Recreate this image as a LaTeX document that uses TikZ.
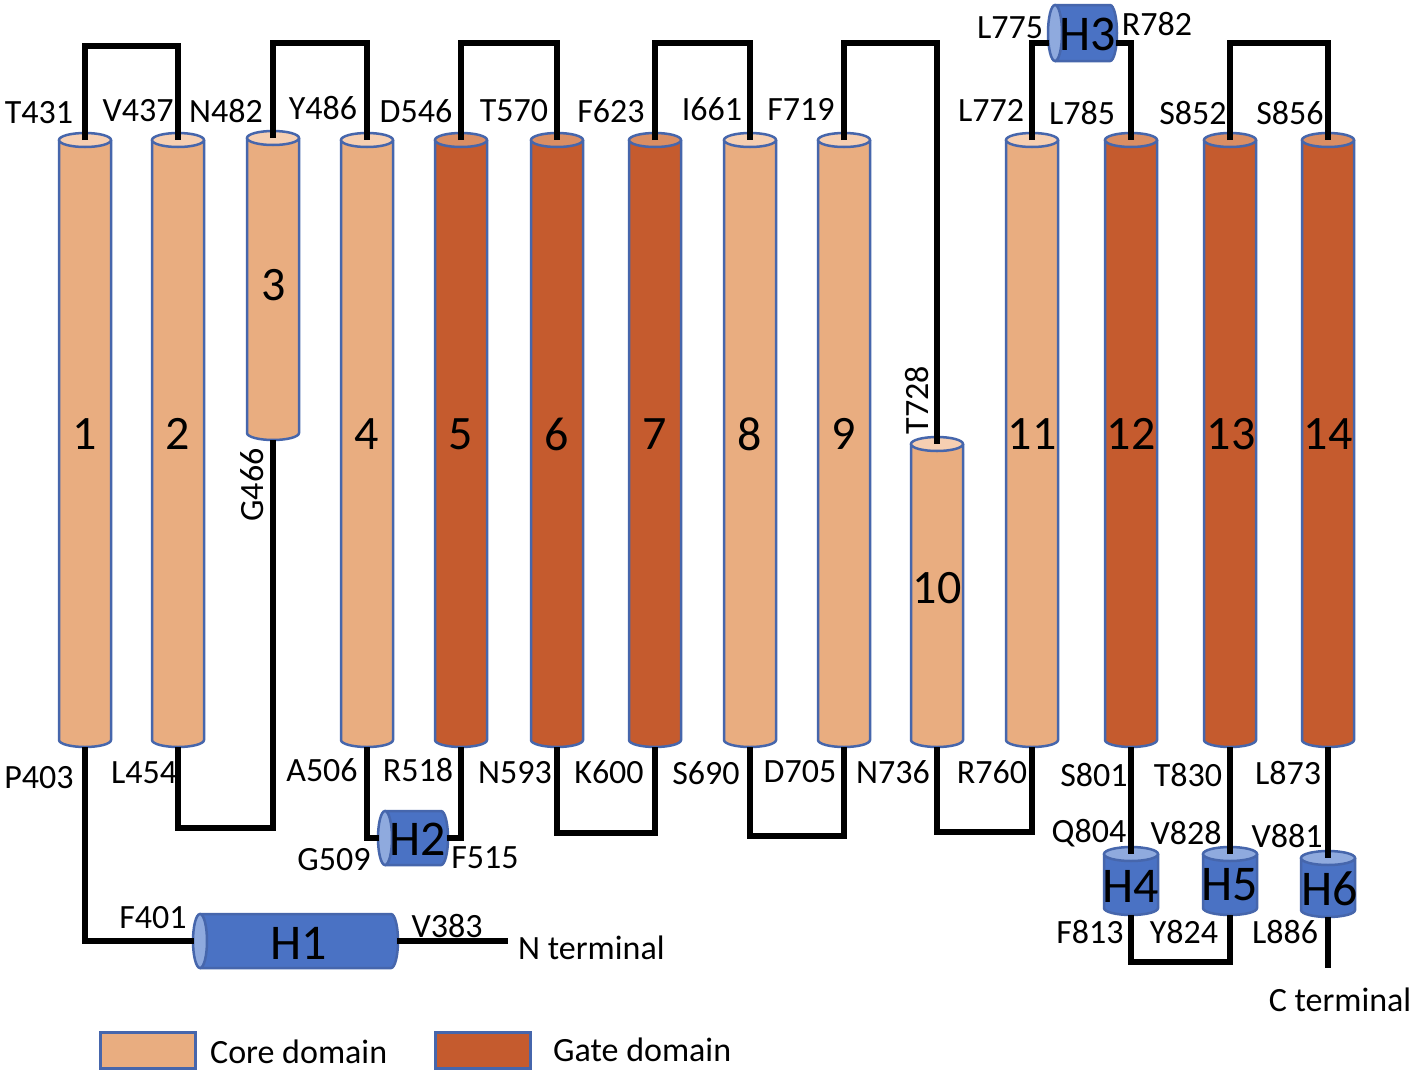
\documentclass[tikz,border=0pt]{standalone}
\usepackage{fontspec}
\setmainfont{Carlito}
\definecolor{core}{RGB}{233,173,128}
\definecolor{coretop}{RGB}{246,207,178}
\definecolor{gate}{RGB}{197,91,46}
\definecolor{gatetop}{RGB}{218,142,100}
\definecolor{outl}{RGB}{70,102,172}
\definecolor{helix}{RGB}{74,114,196}
\definecolor{helixend}{RGB}{143,170,222}
\tikzset{
  outline/.style={draw=outl,line width=2.5pt},
  conn/.style={draw=black,line width=5.5pt,line join=miter},
  lab/.style={font=\fontsize{34}{36}\selectfont,inner sep=0pt},
  num/.style={font=\fontsize{48}{50}\selectfont,inner sep=0pt},
  hnum/.style={font=\fontsize{50}{52}\selectfont,inner sep=0pt},
  legbox/.style={draw=outl,line width=3pt,minimum width=95pt,minimum height=36pt,inner sep=0pt}
}
% vertical cylinder: name, x, ytop, ybot, rx, body, top
\newcommand\vcyl[7]{%
  \fill[#6] (#2-#5,#3) -- (#2-#5,#4) arc[start angle=180,end angle=360,x radius=#5pt,y radius=7pt] -- (#2+#5,#3) -- cycle;
  \draw[outline] (#2-#5,#3) -- (#2-#5,#4) arc[start angle=180,end angle=360,x radius=#5pt,y radius=7pt] -- (#2+#5,#3);
  \draw[outline,fill=#7] (#2,#3) ellipse[x radius=#5pt,y radius=7pt];
  \coordinate (#1t) at (#2,#3);
  \coordinate (#1b) at (#2,#4+7);
}
% horizontal cylinder: name, xl, xr, yc, ry
\newcommand\hcyl[5]{%
  \fill[helix] (#2,#4-#5) -- (#3,#4-#5) arc[start angle=90,end angle=-90,x radius=7pt,y radius=#5pt] -- (#2,#4+#5) -- cycle;
  \draw[outline] (#2,#4-#5) -- (#3,#4-#5) arc[start angle=90,end angle=-90,x radius=7pt,y radius=#5pt] -- (#2,#4+#5);
  \draw[outline,fill=helixend] (#2,#4) ellipse[x radius=7pt,y radius=#5pt];
}
\begin{document}
\begin{tikzpicture}[x=1pt,y=-1pt]
\fill[white] (0,0) rectangle (1417,1074);
\useasboundingbox (0,0) rectangle (1417,1074);

% transmembrane cylinders
\vcyl{c1}{85}{140}{740}{26}{core}{coretop}
\vcyl{c2}{178}{140}{740}{26}{core}{coretop}
\vcyl{c3}{273}{138}{433}{26}{core}{coretop}
\vcyl{c4}{367}{140}{740}{26}{core}{coretop}
\vcyl{c5}{461}{140}{740}{26}{gate}{gatetop}
\vcyl{c6}{557}{140}{740}{26}{gate}{gatetop}
\vcyl{c7}{655}{140}{740}{26}{gate}{gatetop}
\vcyl{c8}{750}{140}{740}{26}{core}{coretop}
\vcyl{c9}{844}{140}{740}{26}{core}{coretop}
\vcyl{c10}{937}{444}{740}{26}{core}{coretop}
\vcyl{c11}{1032}{140}{740}{26}{core}{coretop}
\vcyl{c12}{1131}{140}{740}{26}{gate}{gatetop}
\vcyl{c13}{1230}{140}{740}{26}{gate}{gatetop}
\vcyl{c14}{1328}{140}{740}{26}{gate}{gatetop}

% small helices
\vcyl{h4}{1131}{854}{908}{27}{helix}{helixend}
\vcyl{h5}{1230}{854}{908}{27}{helix}{helixend}
\vcyl{h6}{1328}{858}{910}{27}{helix}{helixend}
\hcyl{h1}{200}{391}{941}{27}
\hcyl{h2}{385}{441}{838}{27}
\hcyl{h3}{1055}{1110}{33}{28}

\coordinate (h1l) at (194,941);
\coordinate (h1r) at (397,941);
\coordinate (h2l) at (379,838);
\coordinate (h2r) at (447,838);
\coordinate (h3l) at (1049,43);
\coordinate (h3r) at (1116,43);
\coordinate (nend) at (508,941);
\coordinate (cend) at (1328,968);
\coordinate (ya) at (0,46);
\coordinate (yb) at (0,43);
\coordinate (yl23) at (0,828);
\coordinate (yl67) at (0,833);
\coordinate (yl89) at (0,836);
\coordinate (yl1011) at (0,832);
\coordinate (yl45) at (0,962);

% connectors
\draw[conn] (c1b) |- (h1l);
\draw[conn] (h1r) -- (nend);
\draw[conn] (c1t) -- (c1t |- ya) -- (c2t |- ya) -- (c2t);
\draw[conn] (c2b) -- (c2b |- yl23) -- (c3b |- yl23) -- (c3b);
\draw[conn] (c3t) -- (c3t |- yb) -- (c4t |- yb) -- (c4t);
\draw[conn] (c4b) |- (h2l);
\draw[conn] (h2r) -| (c5b);
\draw[conn] (c5t) -- (c5t |- yb) -- (c6t |- yb) -- (c6t);
\draw[conn] (c6b) -- (c6b |- yl67) -- (c7b |- yl67) -- (c7b);
\draw[conn] (c7t) -- (c7t |- yb) -- (c8t |- yb) -- (c8t);
\draw[conn] (c8b) -- (c8b |- yl89) -- (c9b |- yl89) -- (c9b);
\draw[conn] (c9t) -- (c9t |- yb) -- (c10t |- yb) -- (c10t);
\draw[conn] (c10b) -- (c10b |- yl1011) -- (c11b |- yl1011) -- (c11b);
\draw[conn] (c11t) |- (h3l);
\draw[conn] (h3r) -| (c12t);
\draw[conn] (c12b) -- (h4t);
\draw[conn] (h4b) -- (h4b |- yl45) -- (h5b |- yl45) -- (h5b);
\draw[conn] (h5t) -- (c13b);
\draw[conn] (c13t) -- (c13t |- yb) -- (c14t |- yb) -- (c14t);
\draw[conn] (c14b) -- (h6t);
\draw[conn] (h6b) -- (cend);

% cylinder numbers
\node[num] (n1) at (85,434) {1};
\node[num] (n2) at (178,434) {2};
\node[num] (n3) at (274,285) {3};
\node[num] (n4) at (367,434) {4};
\node[num] (n5) at (461,434) {5};
\node[num] (n6) at (557,434) {6};
\node[num] (n7) at (655,434) {7};
\node[num] (n8) at (750,434) {8};
\node[num] (n9) at (844,434) {9};
\node[num] (n10) at (937,588) {10};
\node[num] (n11) at (1032,434) {11};
\node[num] (n12) at (1131,434) {12};
\node[num] (n13) at (1231,434) {13};
\node[num] (n14) at (1328,434) {14};
\node[hnum] (nH1) at (299,943) {H1};
\node[hnum] (nH2) at (418,839) {H2};
\node[hnum] (nH3) at (1088,34) {H3};
\node[hnum] (nH4) at (1131,886) {H4};
\node[hnum] (nH5) at (1230,885) {H5};
\node[hnum] (nH6) at (1330,889) {H6};

% residue labels, top
\node[lab] (lT431) at (39,113) {T431};
\node[lab] (lV437) at (138,111) {V437};
\node[lab] (lN482) at (226,111) {N482};
\node[lab] (lY486) at (323,108) {Y486};
\node[lab] (lD546) at (416,111) {D546};
\node[lab] (lT570) at (514,111) {T570};
\node[lab] (lF623) at (611,111) {F623};
\node[lab] (lI661) at (712,109) {I661};
\node[lab] (lF719) at (801,109) {F719};
\node[lab] (lL772) at (991,110) {L772};
\node[lab] (lL785) at (1082,113) {L785};
\node[lab] (lS852) at (1193,113) {S852};
\node[lab] (lS856) at (1290,113) {S856};
\node[lab] (lL775) at (1010,28) {L775};
\node[lab] (lR782) at (1157,24) {R782};
\node[lab,rotate=90] (lT728) at (917,400) {T728};
\node[lab,rotate=90] (lG466) at (252,485) {G466};

% residue labels, bottom
\node[lab] (lP403) at (39,778) {P403};
\node[lab] (lL454) at (144,773) {L454};
\node[lab] (lA506) at (322,770) {A506};
\node[lab] (lR518) at (418,770) {R518};
\node[lab] (lN593) at (515,773) {N593};
\node[lab] (lK600) at (609,772) {K600};
\node[lab] (lS690) at (706,773) {S690};
\node[lab] (lD705) at (800,772) {D705};
\node[lab] (lN736) at (893,772) {N736};
\node[lab] (lR760) at (992,772) {R760};
\node[lab] (lS801) at (1094,775) {S801};
\node[lab] (lT830) at (1188,775) {T830};
\node[lab] (lL873) at (1288,773) {L873};
\node[lab] (lG509) at (334,860) {G509};
\node[lab] (lF515) at (485,858) {F515};
\node[lab] (lQ804) at (1089,833) {Q804};
\node[lab] (lV828) at (1186,833) {V828};
\node[lab] (lV881) at (1287,836) {V881};
\node[lab] (lF813) at (1090,932) {F813};
\node[lab] (lY824) at (1184,932) {Y824};
\node[lab] (lL886) at (1285,932) {L886};
\node[lab] (lF401) at (153,918) {F401};
\node[lab] (lV383) at (447,926) {V383};
\node[lab,anchor=west] (lN) at (518,948) {N terminal};
\node[lab] (lC) at (1340,1000) {C terminal};

% legend
\node[legbox,fill=core] (lcore) at (147.5,1050) {};
\node[lab,anchor=west] (tcore) at (210,1052) {Core domain};
\node[legbox,fill=gate] (lgate) at (482.5,1050) {};
\node[lab,anchor=west] (tgate) at (553,1050) {Gate domain};
\end{tikzpicture}
\end{document}
